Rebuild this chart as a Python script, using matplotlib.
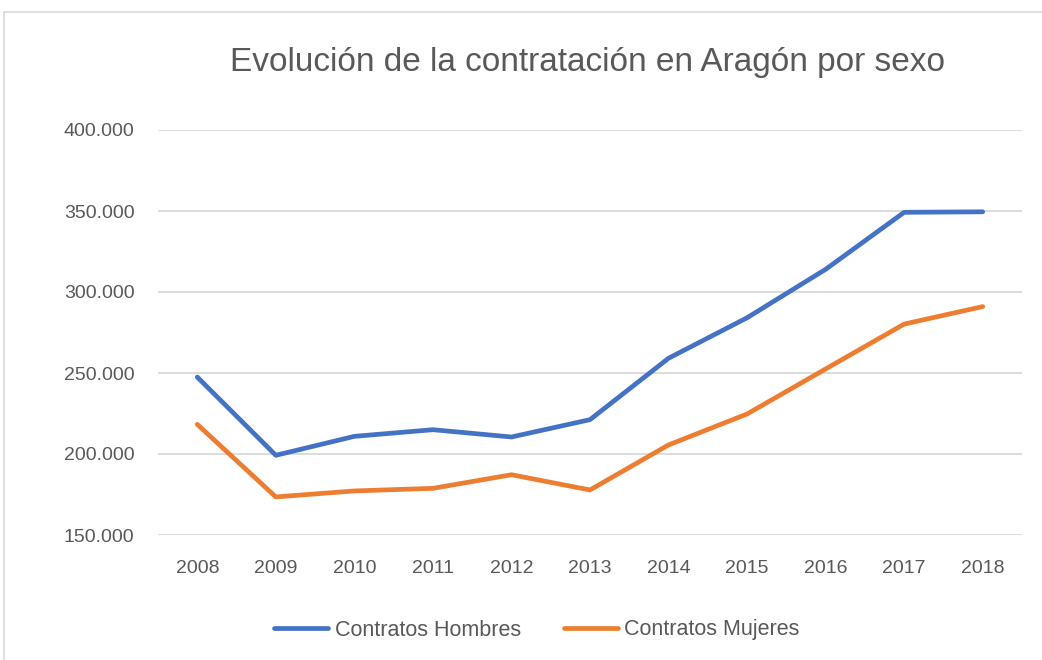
import matplotlib
matplotlib.use("Agg")
import matplotlib.pyplot as plt
from matplotlib.patches import Rectangle
from matplotlib.ticker import FuncFormatter

# datos (miles de contratos)
years = ["2008", "2009", "2010", "2011", "2012", "2013", "2014", "2015", "2016", "2017", "2018"]
hombres = [247.5, 199.2, 210.9, 215.0, 210.5, 221.2, 259.1, 284.1, 314.0, 349.2, 349.5]
mujeres = [218.3, 173.5, 177.2, 178.8, 187.2, 177.8, 205.6, 224.7, 252.5, 280.2, 291.0]
yticks = [150, 200, 250, 300, 350, 400]

plt.rcParams['font.family'] = ['Liberation Sans Narrow', 'Liberation Sans', 'DejaVu Sans']
gray = '#595959'

fig = plt.figure(figsize=(10.42, 6.6), dpi=100)
# marco del gráfico
fig.patches.append(Rectangle((4 / 1042, -0.01), 1.1, 1 - 12 / 660 + 0.01, transform=fig.transFigure,
                             fill=False, edgecolor='#d9d9d9', linewidth=1.2))

ax = fig.add_axes([158 / 1042, 1 - 535 / 660, 864 / 1042, 405 / 660])
x = range(len(years))
ax.plot(x, [v * 1000 for v in hombres], color='#4472C4', lw=3.4, solid_capstyle='round',
        solid_joinstyle='round', label='Contratos Hombres')
ax.plot(x, [v * 1000 for v in mujeres], color='#ED7D31', lw=3.4, solid_capstyle='round',
        solid_joinstyle='round', label='Contratos Mujeres')

ax.set_xlim(-0.5, len(years) - 0.5)
ax.set_ylim(150000, 400000)
ax.set_yticks([t * 1000 for t in yticks])
ax.yaxis.set_major_formatter(FuncFormatter(lambda v, p: f"{int(v):,}".replace(",", ".")))
ax.set_xticks(list(x))
ax.set_xticklabels(years)
ax.grid(axis='y', color='#d9d9d9', lw=1.3)
ax.set_axisbelow(True)
for s in ax.spines.values():
    s.set_visible(False)
ax.tick_params(length=0, labelsize=14, colors=gray)
ax.tick_params(axis='x', pad=18)
ax.tick_params(axis='y', pad=17)

fig.text(587 / 1042, 1 - 63 / 660, 'Evolución de la contratación en Aragón por sexo',
         ha='center', va='center', fontsize=24, color=gray)

leg = fig.legend(loc='center', bbox_to_anchor=(537 / 1042, 1 - 630 / 660), ncol=2, frameon=False,
                 fontsize=15.5, handlelength=2.5, handletextpad=0.3, columnspacing=2.0)
for t in leg.get_texts():
    t.set_color(gray)

fig.savefig('out.png', dpi=100)
